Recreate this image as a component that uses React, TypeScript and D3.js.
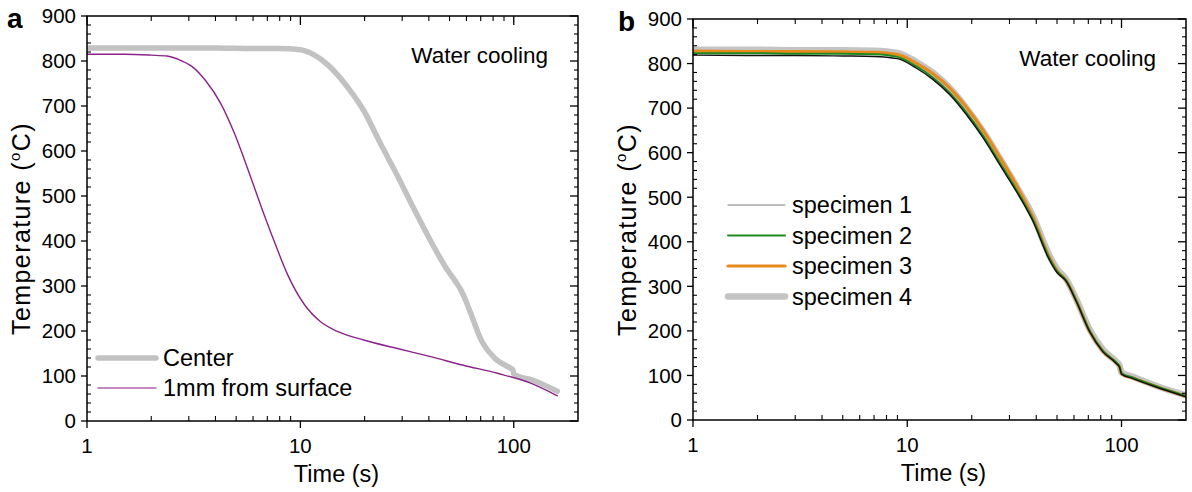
import React from "react";
import * as d3 from "d3";

// panel a : water cooling, center vs 1mm from surface
const centerTime = [1, 2, 4, 6, 8, 10, 11.55, 13.4, 15.4, 17.5, 19.8, 23.7, 28.5, 34, 40.8, 48.8, 53, 56.4, 60, 62.8, 70, 80.9, 96.8, 99, 100, 124, 160];
const centerTemp = [829, 829, 829, 828, 828, 825, 814, 792, 762, 728, 690, 617, 545, 472, 400, 336, 312, 292, 264, 240, 182, 141, 117, 114, 104, 90, 66];
const surfaceTime = [1, 1.5, 2, 2.37, 2.7, 3.1, 3.6, 4.23, 4.88, 5.64, 6.52, 7.53, 8.68, 10.4, 12.4, 14.9, 19.8, 28.5, 40.8, 58, 84, 120, 160];
const surfaceTemp = [815, 815, 813, 811, 803, 788, 756, 706, 642, 563, 479, 400, 327, 260, 221, 199, 180, 161, 143, 124, 106, 84, 56];

// panel b : four specimens
const specTime = [1, 2, 3, 5, 7, 9, 11, 13.2, 15.8, 18.9, 22.6, 27, 32.3, 38.6, 46.2, 50, 55.2, 61.5, 71, 81.9, 94.5, 98, 100, 113, 145, 200];
const spec1Temp = [819, 818, 818, 817, 816, 811, 790, 764, 730, 685, 633, 573, 513, 446, 358, 331, 311, 266, 198, 153, 127, 118, 103, 93, 74, 52];
const spec2Temp = [823, 823, 822, 822, 821, 815, 794, 768, 734, 690, 638, 578, 517, 450, 362, 334, 313, 268, 200, 155, 129, 120, 105, 95, 76, 54];
const spec3Temp = [828, 827, 827, 826, 825, 820, 801, 777, 745, 702, 650, 590, 527, 455, 364, 335, 313, 268, 199, 154, 128, 119, 104, 94, 75, 53];
const spec4Temp = [831, 831, 830, 830, 829, 824, 804, 779, 745, 700, 648, 588, 525, 458, 368, 339, 316, 271, 203, 158, 131, 122, 107, 97, 77, 55];

const yTicks = [0, 100, 200, 300, 400, 500, 600, 700, 800, 900];
const xTicks = [1, 10, 100];
const xTickLabels = ["1", "10", "100"];
const xMinor = [2, 3, 4, 5, 6, 7, 8, 9, 20, 30, 40, 50, 60, 70, 80, 90];

const FONT = "Liberation Sans, Arial, sans-serif";

type Series = { name: string; time: number[]; temp: number[]; color: string; width: number; legendColor?: string };

const Panel = ({ letter, letterX, left, right, top, bottom, series, drawOrder, legendX, legendY, legendGap, legendLen }: any) => {
  const x = d3.scaleLog().domain([1, 200]).range([left, right]);
  const y = d3.scaleLinear().domain([0, 900]).range([bottom, top]);
  const yMinor = d3.range(0, 901, 20).filter((v) => v % 100 !== 0);

  const line = (s: Series) =>
    d3
      .line<number>()
      .x((_, i) => x(s.time[i]))
      .y((v) => y(v))
      .curve(d3.curveMonotoneX)(s.temp) as string;

  const midY = (top + bottom) / 2;

  return (
    <g fontFamily={FONT}>
      <text x={letterX} y={top + 12} fontSize={28} fontWeight="bold">{letter}</text>

      {/* curves */}
      <clipPath id={`clip-${letter}`}>
        <rect x={left} y={top} width={right - left} height={bottom - top} />
      </clipPath>
      <g clipPath={`url(#clip-${letter})`}>
        {drawOrder.map((i: number) => (
          <path key={i} d={line(series[i])} fill="none" stroke={series[i].color} strokeWidth={series[i].width} strokeLinejoin="round" strokeLinecap="round" />
        ))}
      </g>

      {/* frame */}
      <rect x={left} y={top} width={right - left} height={bottom - top} fill="none" stroke="#000" strokeWidth={1.5} />

      {/* y ticks */}
      {yTicks.map((v) => (
        <g key={"y" + v}>
          <line x1={left - 6} x2={left} y1={y(v)} y2={y(v)} stroke="#000" strokeWidth={1.3} />
          <line x1={right - 8} x2={right} y1={y(v)} y2={y(v)} stroke="#000" strokeWidth={1.3} />
          <text x={left - 11} y={y(v)} dy="0.36em" textAnchor="end" fontSize={20.5}>{v}</text>
        </g>
      ))}
      {yMinor.map((v) => (
        <g key={"ym" + v}>
          <line x1={left} x2={left + 4} y1={y(v)} y2={y(v)} stroke="#000" strokeWidth={1.1} />
          <line x1={right - 4} x2={right} y1={y(v)} y2={y(v)} stroke="#000" strokeWidth={1.1} />
        </g>
      ))}

      {/* x ticks */}
      {xTicks.map((v, i) => (
        <g key={"x" + v}>
          <line x1={x(v)} x2={x(v)} y1={bottom} y2={bottom + 7} stroke="#000" strokeWidth={1.3} />
          <line x1={x(v)} x2={x(v)} y1={top} y2={top + 9} stroke="#000" strokeWidth={1.3} />
          <text x={x(v)} y={bottom + 32} textAnchor="middle" fontSize={20.5}>{xTickLabels[i]}</text>
        </g>
      ))}
      {xMinor.map((v) => (
        <g key={"xm" + v}>
          <line x1={x(v)} x2={x(v)} y1={bottom - 5} y2={bottom} stroke="#000" strokeWidth={1.1} />
          <line x1={x(v)} x2={x(v)} y1={top} y2={top + 5} stroke="#000" strokeWidth={1.1} />
        </g>
      ))}

      {/* axis titles */}
      <text x={(left + right) / 2 + 4} y={bottom + 61} textAnchor="middle" fontSize={23.5}>Time (s)</text>
      <text transform={`translate(${left - 57},${midY + 10}) rotate(-90)`} textAnchor="middle" fontSize={25} letterSpacing={1.4}>
        Temperature (<tspan fontSize={15} dy={-10}>o</tspan><tspan dy={10}>C)</tspan>
      </text>

      <text x={right - 30} y={top + 47} textAnchor="end" fontSize={22.5}>Water cooling</text>

      {/* legend */}
      {series.map((s: Series, i: number) => (
        <g key={"lg" + i}>
          <line x1={legendX} x2={legendX + legendLen} y1={legendY + i * legendGap} y2={legendY + i * legendGap} stroke={s.legendColor || s.color} strokeWidth={s.width} strokeLinecap="round" />
          <text x={legendX + legendLen + 7} y={legendY + i * legendGap} dy="0.36em" fontSize={23.5}>{s.name}</text>
        </g>
      ))}
    </g>
  );
};

export default function App() {
  const seriesA: Series[] = [
    { name: "Center", time: centerTime, temp: centerTemp, color: "#c2c2c2", width: 5.5 },
    { name: "1mm from surface", time: surfaceTime, temp: surfaceTemp, color: "#8a238a", width: 1.4, legendColor: "#b060b0" },
  ];
  const seriesB: Series[] = [
    { name: "specimen 1", time: specTime, temp: spec1Temp, color: "#111", width: 1.4, legendColor: "#a8a8a8" },
    { name: "specimen 2", time: specTime, temp: spec2Temp, color: "#1f8a1f", width: 2 },
    { name: "specimen 3", time: specTime, temp: spec3Temp, color: "#e8891c", width: 3.2 },
    { name: "specimen 4", time: specTime, temp: spec4Temp, color: "#c4c4c4", width: 6.5 },
  ];

  return (
    <svg width={1192} height={492} style={{ position: "absolute", left: 0, top: 0, background: "#fff" }}>
      <Panel letter="a" letterX={7} left={87} right={578} top={16} bottom={421} series={seriesA} drawOrder={[0, 1]}
        legendX={98} legendY={358} legendGap={30} legendLen={58} />
      <Panel letter="b" letterX={618} left={693} right={1186} top={19} bottom={420} series={seriesB} drawOrder={[3, 2, 1, 0]}
        legendX={728} legendY={205} legendGap={30.5} legendLen={57} />
    </svg>
  );
}
